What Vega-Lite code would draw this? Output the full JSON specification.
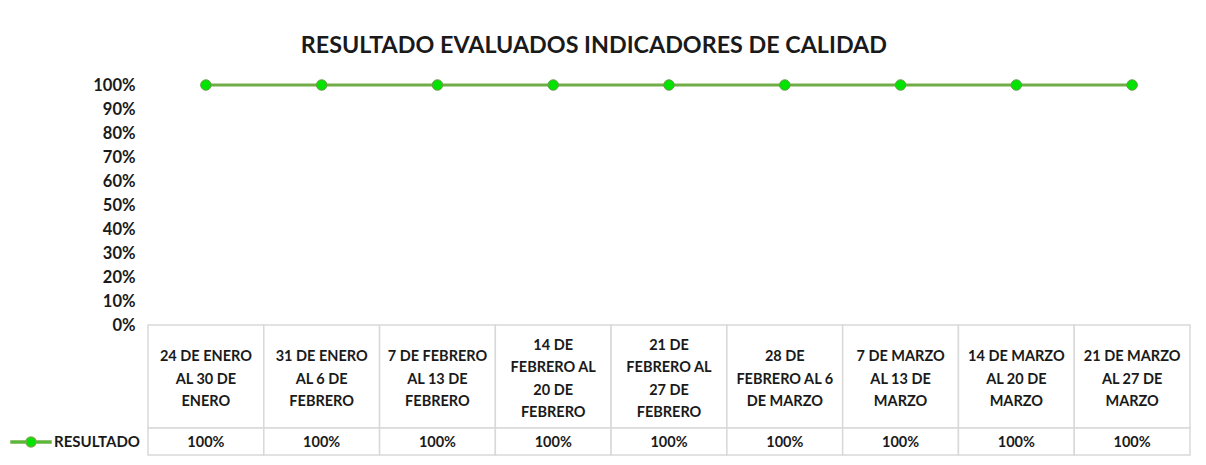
{
  "$schema": "https://vega.github.io/schema/vega-lite/v6.json",
  "padding": {"left": 17, "top": 33, "right": 5, "bottom": 5},
  "background": "white",
  "bounds": "flush",
  "title": {
    "text": "RESULTADO EVALUADOS INDICADORES DE CALIDAD",
    "font": "Lato",
    "fontSize": 23.3,
    "fontWeight": "bold",
    "color": "#1a1a1a",
    "anchor": "middle",
    "frame": "bounds",
    "dx": -10,
    "offset": 19
  },
  "config": {
    "view": {"stroke": null},
    "font": "Lato",
    "concat": {"spacing": 0}
  },
  "datasets": {
    "datos": [
      {"semana": "24 DE ENERO\nAL 30 DE\nENERO", "serie": "RESULTADO", "valor": 1},
      {"semana": "31 DE ENERO\nAL 6 DE\nFEBRERO", "serie": "RESULTADO", "valor": 1},
      {"semana": "7 DE FEBRERO\nAL 13 DE\nFEBRERO", "serie": "RESULTADO", "valor": 1},
      {"semana": "14 DE\nFEBRERO AL\n20 DE\nFEBRERO", "serie": "RESULTADO", "valor": 1},
      {"semana": "21 DE\nFEBRERO AL\n27 DE\nFEBRERO", "serie": "RESULTADO", "valor": 1},
      {"semana": "28 DE\nFEBRERO AL 6\nDE MARZO", "serie": "RESULTADO", "valor": 1},
      {"semana": "7 DE MARZO\nAL 13 DE\nMARZO", "serie": "RESULTADO", "valor": 1},
      {"semana": "14 DE MARZO\nAL 20 DE\nMARZO", "serie": "RESULTADO", "valor": 1},
      {"semana": "21 DE MARZO\nAL 27 DE\nMARZO", "serie": "RESULTADO", "valor": 1}
    ]
  },
  "resolve": {"scale": {"x": "independent", "color": "independent"}, "legend": {"color": "independent"}},
  "vconcat": [
    {
      "width": 1042,
      "height": 240,
      "data": {"name": "datos"},
      "encoding": {
        "x": {"field": "semana", "type": "nominal", "sort": null, "scale": {"type": "point", "padding": 0.5}, "axis": null},
        "y": {
          "field": "valor",
          "type": "quantitative",
          "scale": {"domain": [0, 1]},
          "axis": {
            "format": ".0%",
            "values": [0, 0.1, 0.2, 0.3, 0.4, 0.5, 0.6, 0.7, 0.8, 0.9, 1],
            "grid": false,
            "domain": false,
            "ticks": false,
            "labelFont": "Lato",
            "labelFontWeight": "bold",
            "labelFontSize": 16.5,
            "labelColor": "#1a1a1a",
            "labelPadding": 13,
            "title": null
          }
        }
      },
      "layer": [
        {"mark": {"type": "line", "color": "#70AD47", "strokeWidth": 3}},
        {"mark": {"type": "point", "filled": true, "fill": "#00E400", "stroke": "#6a9a4a", "strokeWidth": 1, "size": 110, "opacity": 1}}
      ]
    },
    {
      "width": 1042,
      "height": 103,
      "data": {"name": "datos"},
      "encoding": {
        "x": {"field": "semana", "type": "nominal", "sort": null, "scale": {"type": "band", "paddingInner": 0, "paddingOuter": 0}, "axis": null}
      },
      "layer": [
        {"mark": {"type": "rect", "fill": "white", "stroke": "#d9d9d9", "strokeWidth": 1.5}},
        {
          "mark": {
            "type": "text",
            "lineBreak": "\n",
            "lineHeight": 22.5,
            "font": "Lato",
            "fontWeight": "bold",
            "fontSize": 14.5,
            "color": "#1a1a1a",
            "baseline": "middle",
            "dy": {"expr": "3 - (length(split(datum.semana, '\\n')) - 1) * 11.25"}
          },
          "encoding": {"text": {"field": "semana"}}
        }
      ]
    },
    {
      "width": 1042,
      "height": 27,
      "data": {"name": "datos"},
      "encoding": {
        "x": {"field": "semana", "type": "nominal", "sort": null, "scale": {"type": "band", "paddingInner": 0, "paddingOuter": 0}, "axis": null}
      },
      "layer": [
        {"mark": {"type": "rect", "fill": "white", "stroke": "#d9d9d9", "strokeWidth": 1.5}},
        {
          "mark": {"type": "text", "font": "Lato", "fontWeight": "bold", "fontSize": 14.5, "baseline": "middle", "dy": 1, "color": "#1a1a1a"},
          "encoding": {
            "text": {"field": "valor", "type": "quantitative", "format": ".0%"}
          }
        },
        {
          "mark": {"type": "point", "filled": true, "opacity": 0, "stroke": "#70AD47", "strokeWidth": 1.5},
          "encoding": {
            "color": {
              "field": "serie",
              "type": "nominal",
              "scale": {"range": ["#00E400"]},
              "legend": {
                "orient": "left",
                "title": null,
                "labelFont": "Lato",
                "labelFontWeight": "bold",
                "labelFontSize": 15,
                "labelColor": "#1a1a1a",
                "symbolType": "M-2,-0.1L-0.5,-0.1L-0.5,0.1L-2,0.1Z M0.5,-0.1L2,-0.1L2,0.1L0.5,0.1Z M-0.5,0A0.5,0.5,0,1,0,0.5,0A0.5,0.5,0,1,0,-0.5,0Z",
                "symbolSize": 400,
                "symbolStrokeWidth": 1.5,
                "symbolStrokeColor": "#70AD47",
                "symbolOpacity": 1,
                "labelOffset": 12,
                "offset": 5,
                "padding": 3
              }
            }
          }
        }
      ]
    }
  ]
}
